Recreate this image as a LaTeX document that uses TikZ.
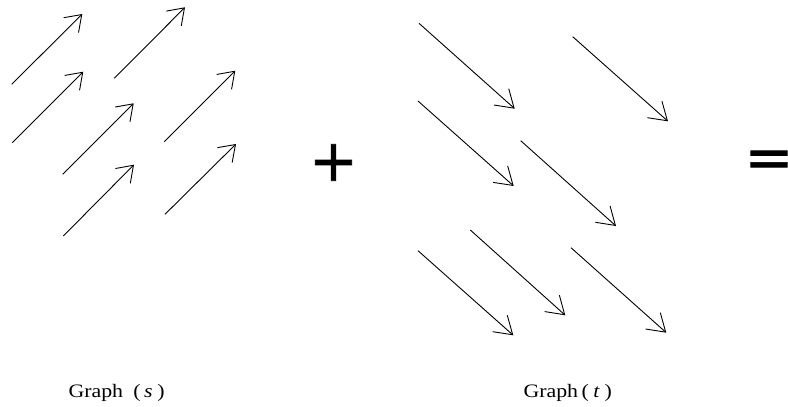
\documentclass[tikz,border=0pt]{standalone}
\usepackage{fontspec}
\setmainfont{Liberation Serif}
\newfontfamily\opfont[FakeBold=1.2]{DejaVu Sans}
\usetikzlibrary{arrows.meta}
\tikzset{
  sarrow/.style={line width=0.9pt, -{Straight Barb[length=15pt,width=21pt,line width=0.9pt]}},
  tarrow/.style={line width=0.9pt, -{Straight Barb[length=17pt,width=22pt,line width=0.9pt]}},
  oplabel/.style={font=\opfont\fontsize{58}{58}\selectfont, inner sep=0pt},
  glabel/.style={font=\fontsize{19}{19}\selectfont, inner sep=0pt, anchor=base west}
}
\begin{document}
\begin{tikzpicture}[x=1pt,y=-1pt]
\useasboundingbox (0,0) rectangle (788,407);
% Graph (s)
\coordinate (s1a) at (11.7,84.3);  \coordinate (s1b) at (82.3,14);
\coordinate (s2a) at (114.3,78.3); \coordinate (s2b) at (185,7.3);
\coordinate (s3a) at (12.3,142.7); \coordinate (s3b) at (83.3,71.7);
\coordinate (s4a) at (62.7,174.3); \coordinate (s4b) at (133.7,103.3);
\coordinate (s5a) at (164.3,141.7);\coordinate (s5b) at (235.3,70.7);
\coordinate (s6a) at (63.3,236);   \coordinate (s6b) at (134,164.7);
\coordinate (s7a) at (165,214.3);  \coordinate (s7b) at (236,144);
\foreach \i in {1,...,7} \draw[sarrow] (s\i a) -- (s\i b);
% Graph (t)
\coordinate (t1a) at (419,23.3);   \coordinate (t1b) at (514.7,108.7);
\coordinate (t2a) at (572.7,36.7); \coordinate (t2b) at (668,121.3);
\coordinate (t3a) at (418,101);    \coordinate (t3b) at (513.7,186);
\coordinate (t4a) at (520.7,140.7);\coordinate (t4b) at (616,226);
\coordinate (t5a) at (470.3,230);  \coordinate (t5b) at (565.3,315.3);
\coordinate (t6a) at (418,250.7);  \coordinate (t6b) at (513.3,335.3);
\coordinate (t7a) at (571,247.7);  \coordinate (t7b) at (666.3,332.7);
\foreach \i in {1,...,7} \draw[tarrow] (t\i a) -- (t\i b);
% operators
\node[oplabel] (plus) at (333.5,162.5) {+};
\node[oplabel] (eq) at (769,164) {=};
% labels
\node[glabel] (gs) at (68.3,397.3) {\scalebox{1.15}[1]{Graph\hspace{9pt}(\hspace{3pt}\textit{s}\hspace{4pt})}};
\node[glabel] (gt) at (523.3,397.3) {\scalebox{1.15}[1]{Graph\hspace{3pt}(\hspace{4pt}\textit{t}\hspace{4pt})}};
\end{tikzpicture}
\end{document}
